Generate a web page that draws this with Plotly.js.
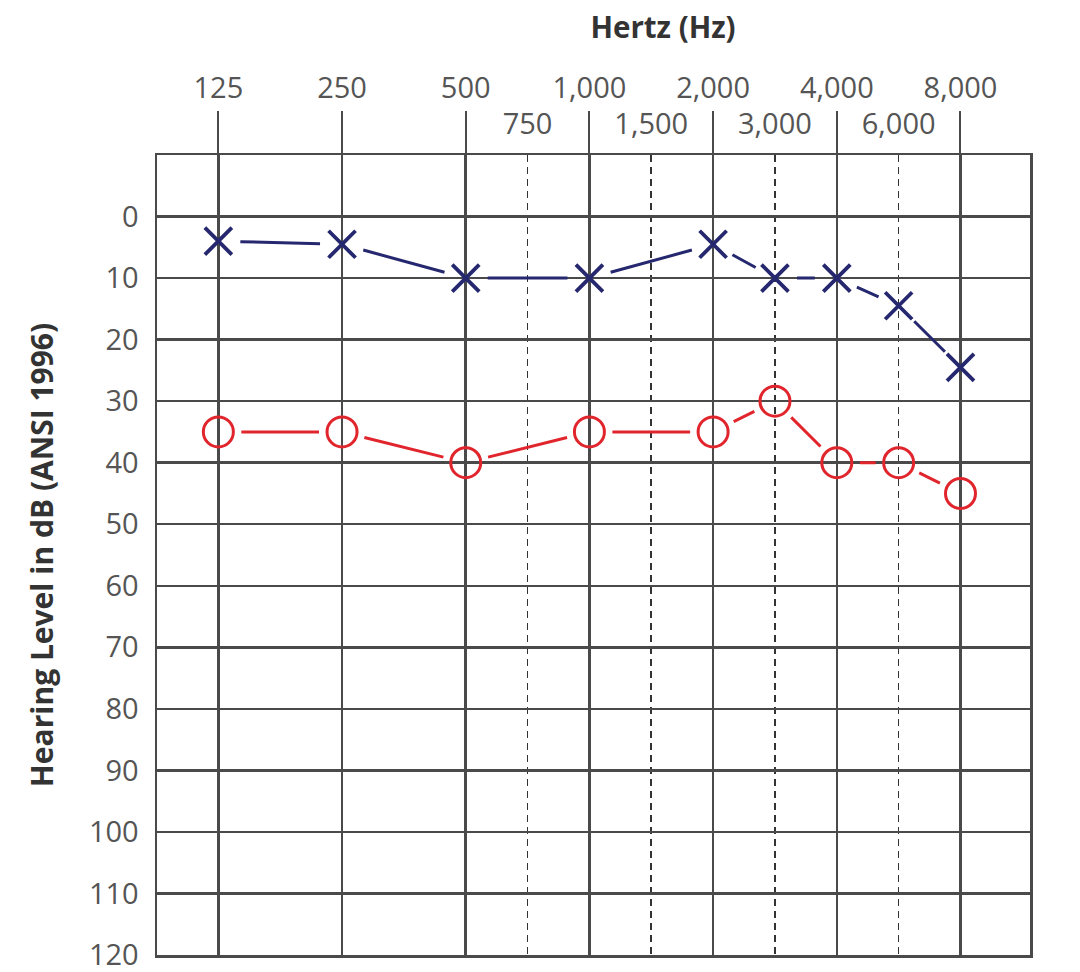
<!DOCTYPE html>
<html>
<head>
<meta charset="utf-8">
<script src="https://cdn.plot.ly/plotly-3.0.1.min.js"></script>
<style>
  html, body { margin: 0; padding: 0; background: #ffffff; }
  #chart { width: 1080px; height: 972px; }
</style>
</head>
<body>
<div id="chart"></div>
<script>
// ---- data ----
const frequencies = [125, 250, 500, 1000, 2000, 3000, 4000, 6000, 8000];
const leftEarX = [4, 4.5, 10, 10, 4.5, 10, 10, 14.5, 24.5];
const rightEarO = [35, 35, 40, 35, 35, 30, 40, 40, 45];

const octaveTicks = [125, 250, 500, 1000, 2000, 4000, 8000];
const octaveLabels = ['125', '250', '500', '1,000', '2,000', '4,000', '8,000'];
const interOctaveTicks = [750, 1500, 3000, 6000];
const interOctaveLabels = ['750', '1,500', '3,000', '6,000'];

const dbTicks = [0, 10, 20, 30, 40, 50, 60, 70, 80, 90, 100, 110, 120];
const dbLabels = dbTicks.map(String);

// Audiogram frequency scale: one step per octave, the 1.5x inter-octave
// frequencies drawn half-way between their neighbouring octaves.
function audiogramX(f) {
  const i = octaveTicks.indexOf(f);
  if (i >= 0) return i;
  return octaveTicks.indexOf(f / 1.5) + 0.5;
}

// ---- styles ----
const BLUE = '#25286f';
const RED = '#e1252d';
const GRID = '#4a4a4a';
const TXT = '#555555';
const FONT = '"Open Sans", "Noto Sans", sans-serif';
const xRange = [-0.496, 6.562];
const LINE_GAPS = [22, 23]; // px kept free around the symbols, per trace

const traces = [
  {
    type: 'scatter', mode: 'lines+markers', name: 'Left ear (X)',
    uid: 'leftear',
    x: frequencies.map(audiogramX), y: leftEarX, xaxis: 'x', yaxis: 'y',
    text: frequencies.map(String),
    line: { color: BLUE, width: 3, simplify: false },
    marker: { symbol: 'x-thin-open', size: 27, color: BLUE, line: { width: 3.8, color: BLUE } },
    cliponaxis: false, hoverinfo: 'text+y'
  },
  {
    type: 'scatter', mode: 'lines+markers', name: 'Right ear (O)',
    uid: 'rightear',
    x: frequencies.map(audiogramX), y: rightEarO, xaxis: 'x2', yaxis: 'y',
    text: frequencies.map(String),
    line: { color: RED, width: 3, simplify: false },
    marker: { symbol: 'circle-open', size: 30, color: RED, line: { width: 3, color: RED } },
    cliponaxis: false, hoverinfo: 'text+y'
  }
];

const layout = {
  width: 1080, height: 972,
  paper_bgcolor: '#ffffff', plot_bgcolor: '#ffffff',
  margin: { l: 157, r: 50, t: 155, b: 17 },
  showlegend: false,
  font: { family: FONT, color: TXT, size: 29 },
  title: {
    text: '<b>Hertz (Hz)</b>',
    font: { family: FONT, size: 29.5, color: '#333333' },
    x: 626 / 1080, xref: 'paper', xanchor: 'center',
    y: 1 - 28 / 972, yref: 'container', yanchor: 'middle'
  },
  xaxis: {
    type: 'linear', range: xRange, autorange: false, side: 'top',
    tickmode: 'array', tickvals: octaveTicks.map(audiogramX), ticktext: octaveLabels,
    ticks: 'outside', ticklen: 42, tickwidth: 2, tickcolor: GRID,
    ticklabelstandoff: 1,
    tickfont: { family: FONT, size: 29, color: TXT },
    showgrid: true, gridcolor: GRID, gridwidth: 2.5,
    minor: {
      tickmode: 'array', tickvals: interOctaveTicks.map(audiogramX), ticks: '',
      showgrid: true, gridcolor: '#333333', gridwidth: 1.6, griddash: '7px,5px'
    },
    showline: true, linecolor: GRID, linewidth: 2.5, mirror: true,
    zeroline: false, fixedrange: true
  },
  xaxis2: {
    type: 'linear', range: xRange, autorange: false, side: 'top',
    overlaying: 'x', anchor: 'y',
    tickmode: 'array', tickvals: interOctaveTicks.map(audiogramX), ticktext: interOctaveLabels,
    ticks: '', ticklabelstandoff: 14,
    tickfont: { family: FONT, size: 29, color: TXT },
    showgrid: false, showline: false, zeroline: false, fixedrange: true
  },
  yaxis: {
    range: [120, -10], autorange: false,
    tickmode: 'array', tickvals: dbTicks, ticktext: dbLabels,
    ticks: '', ticklabelstandoff: 10, ticklabeloverflow: 'allow',
    tickfont: { family: FONT, size: 29, color: TXT },
    showgrid: true, gridcolor: GRID, gridwidth: 2.5,
    showline: true, linecolor: GRID, linewidth: 2.5, mirror: true,
    zeroline: false, fixedrange: true,
    title: {
      text: '<b>Hearing Level in dB (ANSI 1996)</b>',
      font: { family: FONT, size: 30, color: '#333333' },
      standoff: 27
    }
  }
};

// Leave a small gap between each connecting line and the symbols it joins
function applyGaps(gd) {
  const groups = gd.querySelectorAll('.scatterlayer g.trace');
  groups.forEach(function (grp) {
    const datum = grp.__data__;
    let idx = -1;
    if (datum && datum[0] && datum[0].trace) idx = datum[0].trace.index;
    if (idx < 0) {
      if (grp.classList.contains('traceleftear')) idx = 0;
      else if (grp.classList.contains('tracerightear')) idx = 1;
    }
    if (idx < 0 || LINE_GAPS[idx] === undefined) return;
    const g = LINE_GAPS[idx];
    grp.querySelectorAll('path.js-line').forEach(function (path) {
      const nums = (path.getAttribute('d') || '').match(/-?\d*\.?\d+(e-?\d+)?/g);
      if (!nums) return;
      const pts = [];
      for (let i = 0; i + 1 < nums.length; i += 2) pts.push([+nums[i], +nums[i + 1]]);
      const dash = [0, g];
      for (let i = 1; i < pts.length; i++) {
        const L = Math.hypot(pts[i][0] - pts[i - 1][0], pts[i][1] - pts[i - 1][1]);
        dash.push(Math.max(L - 2 * g, 0), 2 * g);
      }
      path.style.setProperty('stroke-dasharray',
        dash.map(function (v) { return v.toFixed(2) + 'px'; }).join(','), 'important');
      path.style.setProperty('stroke-linecap', 'butt');
    });
  });
}

const gd = document.getElementById('chart');
Plotly.newPlot(gd, traces, layout, { staticPlot: true, displayModeBar: false }).then(function () {
  applyGaps(gd);
  setTimeout(function () { applyGaps(gd); }, 50);
});
</script>
</body>
</html>
